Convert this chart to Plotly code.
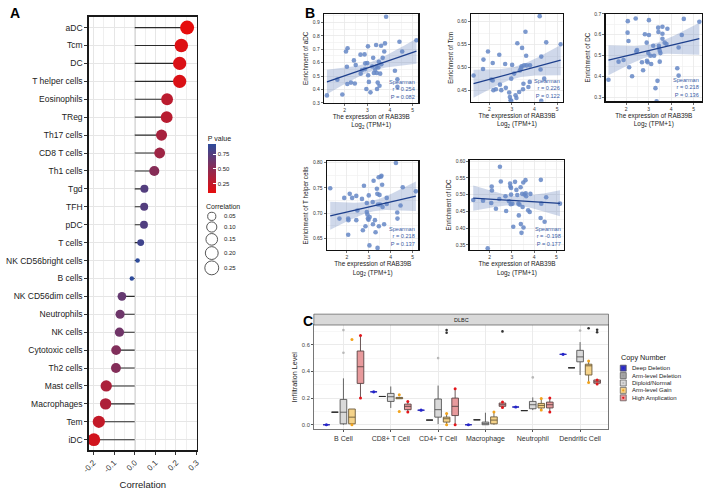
import numpy as np
import plotly.graph_objects as go

W, H = 707, 490
FONT = "Liberation Sans, Arial, sans-serif"


def px(x):
    return x / W


def py(y):
    return 1 - y / H


# ---------------- Panel A data ----------------
cells = ["aDC", "Tcm", "DC", "T helper cells", "Eosinophils", "TReg", "Th17 cells",
         "CD8 T cells", "Th1 cells", "Tgd", "TFH", "pDC", "T cells",
         "NK CD56bright cells", "B cells", "NK CD56dim cells", "Neutrophils",
         "NK cells", "Cytotoxic cells", "Th2 cells", "Mast cells", "Macrophages",
         "Tem", "iDC"]
corr = [0.254, 0.226, 0.218, 0.218, 0.157, 0.155, 0.130, 0.121, 0.095, 0.047,
        0.046, 0.045, 0.029, 0.014, -0.014, -0.062, -0.071, -0.074, -0.090,
        -0.091, -0.138, -0.141, -0.174, -0.198]
pval = [0.082, 0.122, 0.136, 0.137, 0.28, 0.29, 0.37, 0.41, 0.52, 0.75, 0.75,
        0.76, 0.84, 0.92, 0.92, 0.67, 0.63, 0.62, 0.54, 0.53, 0.35, 0.34,
        0.24, 0.177]
corr_ticks = [-0.2, -0.1, 0.0, 0.1, 0.2, 0.3]
pval_ticks = [0.25, 0.50, 0.75]
size_legend_vals = [0.05, 0.10, 0.15, 0.20, 0.25]

# ---------------- Panel B data ----------------
gene_label = "RAB39B"
adc_x = [1.22, 1.68, 1.90, 2.06, 2.13, 2.10, 2.12, 2.28, 2.41, 2.45, 2.49, 2.70, 2.71, 2.77, 2.91, 2.88,
         2.90, 2.96, 3.00, 3.03, 3.04, 3.07, 3.14, 3.22, 3.26, 3.29, 3.35, 3.39, 3.41, 3.42, 3.43, 3.46,
         3.49, 3.51, 3.54, 3.57, 3.61, 3.62, 3.68, 3.75, 3.78, 3.83, 4.22, 4.33, 4.33, 4.42, 4.54, 5.17]
adc_y = [0.355, 0.473, 0.362, 0.684, 0.708, 0.569, 0.44, 0.451, 0.617, 0.444, 0.583, 0.66, 0.518, 0.545,
         0.595, 0.662, 0.552, 0.403, 0.597, 0.722, 0.506, 0.456, 0.378, 0.571, 0.636, 0.523, 0.547, 0.732,
         0.571, 0.523, 0.403, 0.451, 0.564, 0.607, 0.427, 0.518, 0.727, 0.588, 0.636, 0.684, 0.744, 0.943,
         0.54, 0.42, 0.475, 0.756, 0.684, 0.768]
tcm_x = [1.30, 1.72, 1.94, 1.74, 2.15, 2.09, 2.15, 2.18, 2.29, 2.44, 2.47, 2.53, 2.70, 2.73, 2.88, 2.91,
         2.94, 2.97, 3.01, 2.97, 3.10, 3.16, 3.20, 3.24, 3.32, 3.35, 3.41, 3.43, 3.45, 3.49, 3.51, 3.54,
         3.60, 3.63, 3.65, 3.73, 3.79, 3.80, 4.23, 4.30, 4.27, 4.30, 4.43, 4.52, 5.16]
tcm_y = [0.483, 0.497, 0.535, 0.5175, 0.51, 0.474, 0.472, 0.451, 0.453, 0.528, 0.463, 0.451, 0.508, 0.456,
         0.446, 0.436, 0.429, 0.476, 0.506, 0.428, 0.487, 0.44, 0.434, 0.553, 0.447, 0.494, 0.499, 0.503,
         0.543, 0.453, 0.465, 0.505, 0.578, 0.526, 0.505, 0.458, 0.469, 0.505, 0.612, 0.524, 0.496, 0.428,
         0.476, 0.555, 0.551]
dc_x = [1.21, 1.66, 1.88, 2.07, 2.06, 2.10, 2.13, 2.26, 2.42, 2.45, 2.48, 2.70, 2.75, 2.83, 2.91, 2.92,
        2.95, 2.98, 3.01, 3.01, 3.08, 3.11, 3.20, 3.24, 3.30, 3.35, 3.39, 3.42, 3.43, 3.45, 3.46, 3.49,
        3.49, 3.52, 3.61, 3.61, 3.61, 3.71, 3.79, 3.83, 4.27, 4.33, 4.33, 4.47, 4.56, 5.25]
dc_y = [0.384, 0.471, 0.479, 0.665, 0.61, 0.57, 0.444, 0.401, 0.678, 0.52, 0.526, 0.468, 0.43, 0.602,
        0.562, 0.475, 0.468, 0.512, 0.599, 0.67, 0.499, 0.46, 0.547, 0.499, 0.344, 0.281, 0.379, 0.634,
        0.613, 0.547, 0.536, 0.523, 0.471, 0.512, 0.638, 0.605, 0.581, 0.562, 0.555, 0.629, 0.439, 0.539,
        0.404, 0.599, 0.676, 0.662]
th_x = [1.24, 1.66, 1.88, 2.06, 2.07, 2.06, 2.13, 2.24, 2.43, 2.43, 2.48, 2.69, 2.73, 2.78, 2.85, 2.91,
        2.91, 2.94, 2.96, 2.99, 3.00, 3.03, 3.04, 3.18, 3.19, 3.22, 3.28, 3.31, 3.37, 3.39, 3.40, 3.42,
        3.45, 3.46, 3.49, 3.52, 3.55, 3.58, 3.61, 3.63, 3.70, 3.82, 3.82, 4.24, 4.30, 4.31, 4.45, 4.55, 5.15]
th_y = [0.749, 0.689, 0.73, 0.689, 0.686, 0.657, 0.738, 0.73, 0.734, 0.686, 0.705, 0.728, 0.666, 0.754,
        0.674, 0.72, 0.702, 0.697, 0.689, 0.687, 0.735, 0.636, 0.692, 0.722, 0.678, 0.764, 0.686, 0.662,
        0.748, 0.738, 0.631, 0.717, 0.771, 0.674, 0.736, 0.717, 0.772, 0.774, 0.756, 0.712, 0.678, 0.73,
        0.718, 0.799, 0.701, 0.689, 0.715, 0.751, 0.743]
idc_x = [1.26, 1.70, 1.91, 2.09, 2.10, 2.07, 2.28, 2.43, 2.46, 2.50, 2.74, 2.71, 2.87, 2.92, 2.93, 2.96,
         2.95, 2.96, 3.02, 3.06, 3.14, 3.20, 3.24, 3.29, 3.31, 3.34, 3.39, 3.40, 3.43, 3.46, 3.48, 3.51,
         3.52, 3.57, 3.61, 3.62, 3.64, 3.73, 3.80, 3.83, 4.30, 4.29, 4.32, 4.47, 4.54, 5.16]
idc_y = [0.484, 0.482, 0.34, 0.524, 0.512, 0.475, 0.458, 0.487, 0.583, 0.539, 0.451, 0.495, 0.48, 0.533,
         0.524, 0.52, 0.471, 0.5, 0.473, 0.404, 0.538, 0.514, 0.499, 0.473, 0.438, 0.47, 0.522, 0.412,
         0.386, 0.502, 0.463, 0.536, 0.402, 0.5, 0.543, 0.504, 0.495, 0.453, 0.448, 0.502, 0.544, 0.43,
         0.473, 0.419, 0.492, 0.473]
scatter_names = ["aDC", "Tcm", "DC", "T helper cells", "iDC"]
spearman_r = ["0.254", "0.226", "0.218", "0.218", "-0.198"]
spearman_p = ["0.082", "0.122", "0.136", "0.137", "0.177"]

# ---------------- Panel C data ----------------
cn_categories = ["B Cell", "CD8+ T Cell", "CD4+ T Cell", "Macrophage", "Neutrophil", "Dendritic Cell"]
cn_groups = ["Deep Deletion", "Arm-level Deletion", "Diploid/Normal", "Arm-level Gain", "High Amplication"]
deep_del = [0.0, 0.247, 0.109, 0.0, 0.133, 0.528]
arm_del = [0.094, 0.212, 0.035, 0.037, 0.106, 0.427]
dip_q1 = [0.007, 0.175, 0.057, 0.0, 0.12, 0.472]
dip_med = [0.094, 0.21, 0.113, 0.008, 0.15, 0.509]
dip_q3 = [0.19, 0.235, 0.193, 0.02, 0.175, 0.558]
dip_lo = [0.0, 0.126, 0.005, 0.0, 0.11, 0.373]
dip_hi = [0.348, 0.287, 0.294, 0.09, 0.205, 0.62]
gain_q1 = [0.007, 0.195, 0.02, 0.007, 0.126, 0.373]
gain_med = [0.057, 0.2, 0.045, 0.035, 0.145, 0.442]
gain_q3 = [0.118, 0.205, 0.057, 0.059, 0.16, 0.454]
gain_lo = [0.0, 0.195, 0.0, 0.0, 0.11, 0.316]
gain_hi = [0.118, 0.21, 0.085, 0.096, 0.197, 0.479]
amp_q1 = [0.31, 0.113, 0.069, 0.138, 0.126, 0.311]
amp_med = [0.435, 0.138, 0.138, 0.15, 0.15, 0.322]
amp_q3 = [0.553, 0.155, 0.2, 0.163, 0.17, 0.336]
amp_lo = [0.205, 0.095, 0.0, 0.13, 0.1, 0.305]
amp_hi = [0.67, 0.175, 0.274, 0.17, 0.2, 0.335]
dip_pts_cat = ["B Cell", "B Cell", "CD4+ T Cell", "Neutrophil", "Dendritic Cell"]
dip_pts_val = [0.54, 0.71, 0.50, 0.355, 0.706]
gain_pts_cat = ["B Cell", "B Cell", "CD8+ T Cell", "CD8+ T Cell", "CD4+ T Cell", "CD4+ T Cell",
                "Macrophage", "Neutrophil", "Neutrophil", "Dendritic Cell", "Dendritic Cell"]
gain_pts_val = [0.64, 0.0, 0.225, 0.10, 0.085, 0.0, 0.096, 0.197, 0.11, 0.479, 0.316]
amp_pts_cat = ["B Cell", "B Cell", "CD8+ T Cell", "CD8+ T Cell", "CD4+ T Cell", "CD4+ T Cell",
               "Macrophage", "Macrophage", "Neutrophil", "Neutrophil", "Dendritic Cell", "Dendritic Cell"]
amp_pts_val = [0.67, 0.2, 0.175, 0.095, 0.27, 0.0, 0.17, 0.13, 0.2, 0.096, 0.335, 0.305]
out_cat = ["CD4+ T Cell", "CD4+ T Cell", "Macrophage", "Dendritic Cell", "Dendritic Cell", "Dendritic Cell"]
out_grp = ["Arm-level Gain", "Arm-level Gain", "High Amplication", "Arm-level Gain",
           "High Amplication", "High Amplication"]
out_val = [0.69, 0.71, 0.70, 0.724, 0.713, 0.694]

# ---------------- styling ----------------
fig = go.Figure()
TXT = "#1a1a1a"

# ===== Panel A =====
absr = np.abs(np.array(corr))
s_lo, s_hi = absr.min(), absr.max()


def dot_size(v):
    return 4.5 + 9.5 * np.sqrt(np.clip((np.abs(np.asarray(v)) - s_lo) / (s_hi - s_lo), 0, 1))


seg_x, seg_y = [], []
for c, r in zip(cells, corr):
    seg_x += [0, r, None]
    seg_y += [c, c, None]
fig.add_trace(go.Scatter(x=seg_x, y=seg_y, mode="lines", line=dict(color="#2b2b2b", width=1.1),
                         xaxis="x", yaxis="y", showlegend=False, hoverinfo="skip"))
fig.add_trace(go.Scatter(
    x=corr, y=cells, mode="markers", xaxis="x", yaxis="y", showlegend=False,
    marker=dict(size=dot_size(corr), color=pval, cmin=min(pval), cmax=max(pval),
                colorscale=[[0, "#E60D0D"], [1, "#2E4B9B"]], line=dict(width=0), opacity=1,
                showscale=True,
                colorbar=dict(x=px(204), xanchor="left", y=py(131), yanchor="top",
                              len=61, lenmode="pixels", thickness=8, thicknessmode="pixels",
                              outlinewidth=0, tickvals=pval_ticks,
                              ticktext=[f"{t:.2f}" for t in pval_ticks],
                              ticks="inside", ticklen=3, tickcolor="white", tickwidth=1,
                              tickfont=dict(size=6, color=TXT, family=FONT), xpad=0, ypad=0,
                              title=dict(text="P value", side="top", font=dict(size=7, color=TXT))))))

fig.add_shape(type="line", xref="x", yref="y domain", x0=0, x1=0, y0=0, y1=1,
              line=dict(color="#8c8c8c", width=1.2), layer="below")

axA = dict(showline=True, mirror=True, linecolor="#1a1a1a", linewidth=1.4, ticks="outside",
           ticklen=3, tickcolor="#333", zeroline=False)
fig.update_layout(
    xaxis=dict(domain=[px(83), px(193)], range=[-0.223, 0.302], anchor="y",
               tickvals=corr_ticks, ticktext=[f"{t:.1f}" for t in corr_ticks], tickangle=-45,
               tickfont=dict(size=8, color="#333"), showgrid=True, gridcolor="#E6E6E6", gridwidth=1,
               minor=dict(dtick=0.05, showgrid=True, gridcolor="#EFEFEF", gridwidth=1),
               title=dict(text="Correlation", font=dict(size=9.5, color=TXT), standoff=8), **axA),
    yaxis=dict(domain=[py(453), py(14)], type="category", categoryarray=cells,
               range=[len(cells) - 0.4, -0.6], anchor="x",
               tickfont=dict(size=8.5, color="#222"), showgrid=True, gridcolor="#E6E6E6", **axA),
)

# size legend on the canvas axis
leg_d = dot_size(size_legend_vals)
centers = [216.0]
for i in range(1, len(leg_d)):
    centers.append(centers[-1] + (leg_d[i - 1] + leg_d[i]) / 2 + 1.6)
fig.add_trace(go.Scatter(x=[208] * len(size_legend_vals), y=centers, mode="markers",
                         xaxis="x8", yaxis="y8", showlegend=False, hoverinfo="skip",
                         marker=dict(size=leg_d, color="white", line=dict(color="#111", width=1))))

annotations = []
annotations.append(dict(text="Correlation", x=px(200), y=py(206), xref="paper", yref="paper",
                        xanchor="left", yanchor="middle", showarrow=False,
                        font=dict(size=7, color=TXT)))
for v, c in zip(size_legend_vals, centers):
    annotations.append(dict(text=f"{v:.2f}", x=px(218), y=py(c), xref="paper", yref="paper",
                            xanchor="left", yanchor="middle", showarrow=False,
                            font=dict(size=6, color=TXT)))

# ===== Panel B =====
b_specs = [
    (2, adc_x, adc_y, [322, 418], [11, 101], [1.09, 5.26], [0.3, 0.965], 0.1, ".1f"),
    (3, tcm_x, tcm_y, [471.5, 564.5], [11, 100], [1.195, 5.25], [0.4257, 0.617], 0.05, ".2f"),
    (4, dc_x, dc_y, [608, 706], [11, 99.5], [1.08, 5.37], [0.281, 0.70], 0.1, ".1f"),
    (5, th_x, th_y, [325, 418], [160, 250], [1.09, 5.27], [0.627, 0.803], 0.05, ".2f"),
    (6, idc_x, idc_y, [470, 566], [159, 250], [1.10, 5.35], [0.335, 0.603], 0.05, ".2f"),
]
for idx, (k, xs, ys, dx, dy, xr, yr, ydt, yfmt) in enumerate(b_specs):
    xa, ya = f"x{k}", f"y{k}"
    xs = np.array(xs, dtype=float)
    ys = np.array(ys, dtype=float)
    n = len(xs)
    slope, icpt = np.polyfit(xs, ys, 1)
    xg = np.linspace(xs.min(), xs.max(), 80)
    yhat = icpt + slope * xg
    res = ys - (icpt + slope * xs)
    s = np.sqrt((res ** 2).sum() / (n - 2))
    sxx = ((xs - xs.mean()) ** 2).sum()
    se = s * np.sqrt(1 / n + (xg - xs.mean()) ** 2 / sxx)
    tcrit = 2.013
    up, dn = yhat + tcrit * se, yhat - tcrit * se
    fig.add_trace(go.Scatter(x=np.concatenate([xg, xg[::-1]]), y=np.concatenate([up, dn[::-1]]),
                             fill="toself", fillcolor="rgba(95,125,185,0.30)", line=dict(width=0),
                             mode="lines", xaxis=xa, yaxis=ya, showlegend=False, hoverinfo="skip"))
    fig.add_trace(go.Scatter(x=xs, y=ys, mode="markers", xaxis=xa, yaxis=ya, showlegend=False,
                             marker=dict(size=4.6, color="#6587C5", opacity=0.85, line=dict(width=0))))
    fig.add_trace(go.Scatter(x=xg, y=yhat, mode="lines", line=dict(color="#1D3F8C", width=1.3),
                             xaxis=xa, yaxis=ya, showlegend=False, hoverinfo="skip"))
    common = dict(showline=True, mirror=True, linecolor="#111", linewidth=1.3, ticks="outside",
                  ticklen=2, tickwidth=0.7, tickcolor="#333", zeroline=False, showgrid=True,
                  gridcolor="#E8E8E8", gridwidth=0.8, tickfont=dict(size=5, color="#333"))
    fig.layout[f"xaxis{k}"] = dict(
        domain=[px(dx[0]), px(dx[1])], range=xr, anchor=ya, tick0=2, dtick=1,
        minor=dict(dtick=0.5, showgrid=True, gridcolor="#F1F1F1", gridwidth=0.7),
        title=dict(text=f"The expression of {gene_label}<br>Log<sub>2</sub> (TPM+1)",
                   font=dict(size=6.4, color=TXT), standoff=2), **common)
    fig.layout[f"yaxis{k}"] = dict(
        domain=[py(dy[1]), py(dy[0])], range=yr, anchor=xa, dtick=ydt, tick0=0, tickformat=yfmt,
        minor=dict(dtick=ydt / 2, showgrid=True, gridcolor="#F1F1F1", gridwidth=0.7),
        title=dict(text=f"Enrichment of {scatter_names[idx]}", font=dict(size=6.3, color=TXT),
                   standoff=3), **common)
    annotations.append(dict(text=f"Spearman<br>r = {spearman_r[idx]}<br>P = {spearman_p[idx]}",
                            xref=f"{xa} domain", yref=f"{ya} domain", x=1, y=0, xshift=-1, yshift=1,
                            xanchor="right", yanchor="bottom", align="right", showarrow=False,
                            font=dict(size=5.6, color="#3A5CA6")))

# ===== Panel C =====
offsets = [-0.36, -0.18, 0.0, 0.18, 0.36]
cat_pos = {c: i for i, c in enumerate(cn_categories)}
grp_off = {g: o for g, o in zip(cn_groups, offsets)}
box_w = 0.14
fills = ["#3535C0", "#A6A6A6", "#D9D9D9", "#F5D38A", "#E89A9C"]
lines = ["#2F2FB5", "#2b2b2b", "#555555", "#6b5a3a", "#5a4545"]
pt_cols = ["#2424CC", "#9a9a9a", "#B8B8B8", "#F2A31B", "#E3161B"]

box_sets = [
    (deep_del, deep_del, deep_del, deep_del, deep_del),
    (arm_del, arm_del, arm_del, arm_del, arm_del),
    (dip_q1, dip_med, dip_q3, dip_lo, dip_hi),
    (gain_q1, gain_med, gain_q3, gain_lo, gain_hi),
    (amp_q1, amp_med, amp_q3, amp_lo, amp_hi),
]
for gi, (q1, med, q3, lo, hi) in enumerate(box_sets):
    xpos = [i + offsets[gi] for i in range(len(cn_categories))]
    fig.add_trace(go.Box(x=xpos, q1=q1, median=med, q3=q3, lowerfence=lo, upperfence=hi,
                         width=box_w, whiskerwidth=0, fillcolor=fills[gi],
                         line=dict(color=lines[gi], width=0.9), boxpoints=False,
                         xaxis="x7", yaxis="y7", showlegend=False, hoverinfo="skip"))

fig.add_trace(go.Scatter(x=[i + offsets[0] for i in range(len(cn_categories))], y=deep_del,
                         mode="markers", marker=dict(size=3.2, color=pt_cols[0]),
                         xaxis="x7", yaxis="y7", showlegend=False))
for g_i, cats, vals in [(2, dip_pts_cat, dip_pts_val), (3, gain_pts_cat, gain_pts_val),
                        (4, amp_pts_cat, amp_pts_val)]:
    fig.add_trace(go.Scatter(x=[cat_pos[c] + offsets[g_i] for c in cats], y=vals, mode="markers",
                             marker=dict(size=3.0 if g_i > 2 else 2.6, color=pt_cols[g_i]),
                             xaxis="x7", yaxis="y7", showlegend=False))
fig.add_trace(go.Scatter(x=[cat_pos[c] + grp_off[g] for c, g in zip(out_cat, out_grp)], y=out_val,
                         mode="markers", marker=dict(size=2.6, color="#333"),
                         xaxis="x7", yaxis="y7", showlegend=False))

fig.layout["xaxis7"] = dict(domain=[px(311.7), px(611)], range=[-0.625, len(cn_categories) - 0.4],
                            anchor="y7", tickvals=list(range(len(cn_categories))),
                            ticktext=cn_categories, tickfont=dict(size=7, color="#333"),
                            showgrid=True, gridcolor="#EBEBEB", gridwidth=1, zeroline=False,
                            showline=True, mirror=True, linecolor="#555", linewidth=0.8,
                            ticks="outside", ticklen=2, tickcolor="#555")
fig.layout["yaxis7"] = dict(domain=[py(431.7), py(326)], range=[-0.035, 0.748], anchor="x7",
                            tick0=0, dtick=0.2, tickformat=".1f", tickfont=dict(size=5.8, color="#444"),
                            showgrid=True, gridcolor="#EBEBEB", gridwidth=1, zeroline=False,
                            minor=dict(dtick=0.1, showgrid=True, gridcolor="#F4F4F4", gridwidth=0.7),
                            showline=True, mirror=True, linecolor="#555", linewidth=0.8,
                            ticks="outside", ticklen=2, tickcolor="#555",
                            title=dict(text="Infiltration Level", font=dict(size=7.2, color=TXT),
                                       standoff=3))

fig.add_shape(type="rect", xref="paper", yref="paper", x0=px(311.7), x1=px(611), y0=py(326), y1=py(315),
              fillcolor="#D9D9D9", line=dict(color="#555", width=0.7))
annotations.append(dict(text="DLBC", x=px(461.3), y=py(320.5), xref="paper", yref="paper",
                        showarrow=False, font=dict(size=5.5, color=TXT)))

# copy number legend
leg_y = [369.7 + 7.5 * i for i in range(len(cn_groups))]
fig.add_trace(go.Scatter(x=[626] * len(cn_groups), y=leg_y, mode="markers", xaxis="x8", yaxis="y8",
                         showlegend=False, hoverinfo="skip",
                         marker=dict(symbol="square", size=6, color=fills,
                                     line=dict(color="#555", width=0.7))))
fig.add_trace(go.Scatter(x=[626] * len(cn_groups), y=leg_y, mode="markers", xaxis="x8", yaxis="y8",
                         showlegend=False, hoverinfo="skip",
                         marker=dict(symbol="circle", size=2.2, color=pt_cols)))
annotations.append(dict(text="Copy Number", x=px(621.5), y=py(359), xref="paper", yref="paper",
                        xanchor="left", yanchor="middle", showarrow=False,
                        font=dict(size=7.3, color=TXT)))
for g, yy in zip(cn_groups, leg_y):
    annotations.append(dict(text=g, x=px(633), y=py(yy), xref="paper", yref="paper",
                            xanchor="left", yanchor="middle", showarrow=False,
                            font=dict(size=6, color=TXT)))

# panel letters (text-box centers)
for lab, xx, yy in [("A", 8, 10), ("B", 308, 10), ("C", 306, 322)]:
    annotations.append(dict(text=f"<b>{lab}</b>", x=px(xx), y=py(yy), xref="paper", yref="paper",
                            xanchor="center", yanchor="middle", showarrow=False,
                            font=dict(size=14, color="#000")))

fig.layout["xaxis8"] = dict(domain=[0, 1], range=[0, W], visible=False, fixedrange=True, anchor="y8")
fig.layout["yaxis8"] = dict(domain=[0, 1], range=[H, 0], visible=False, fixedrange=True, anchor="x8")

fig.update_layout(width=W, height=H, margin=dict(l=0, r=0, t=0, b=0),
                  paper_bgcolor="white", plot_bgcolor="rgba(0,0,0,0)",
                  font=dict(family=FONT, color=TXT), showlegend=False,
                  annotations=annotations, boxmode="overlay")

fig.write_html("out.html", config={"displayModeBar": False, "staticPlot": True},
               post_script="document.body.style.margin='0';document.body.style.padding='0';"
                           "document.body.style.overflow='hidden';")
